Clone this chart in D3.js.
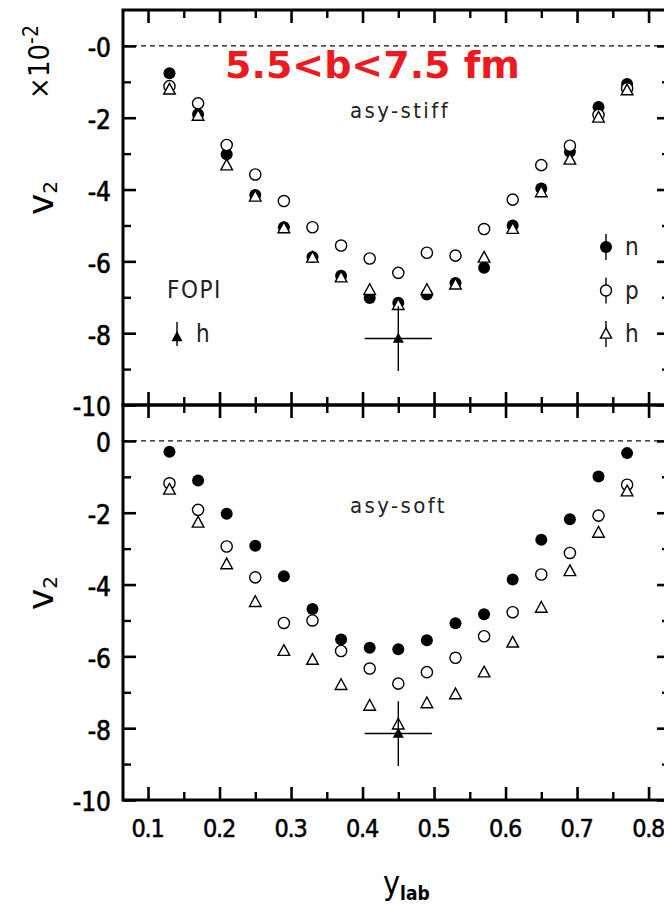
<!DOCTYPE html>
<html>
<head>
<meta charset="utf-8">
<script src="https://cdn.jsdelivr.net/npm/d3@7"></script>
<style>
  html, body { margin: 0; padding: 0; background: #fff; }
  svg { display: block; }
</style>
</head>
<body>
<script>
// Rapidity bin centres (y_lab)
const rapidity = [0.13, 0.17, 0.21, 0.25, 0.29, 0.33, 0.37, 0.41, 0.45, 0.49, 0.53, 0.57, 0.61, 0.65, 0.69, 0.73, 0.77];

// Elliptic flow v2 (x10^-2), asy-stiff symmetry energy
const stiffN = [-0.76, -1.90, -3.02, -4.15, -5.05, -5.88, -6.40, -7.02, -7.15, -6.92, -6.60, -6.18, -5.00, -3.97, -2.95, -1.70, -1.06];
const stiffP = [-1.12, -1.60, -2.76, -3.58, -4.32, -5.05, -5.56, -5.92, -6.32, -5.76, -5.84, -5.10, -4.28, -3.32, -2.78, -1.92, -1.18];
const stiffH = [-1.22, -1.95, -3.33, -4.20, -5.08, -5.90, -6.45, -6.80, -7.22, -6.80, -6.65, -5.90, -5.10, -4.08, -3.17, -2.00, -1.24];

// Elliptic flow v2 (x10^-2), asy-soft symmetry energy
const softN = [-0.30, -1.10, -2.03, -2.92, -3.77, -4.68, -5.53, -5.76, -5.80, -5.55, -5.08, -4.83, -3.86, -2.75, -2.18, -0.99, -0.34];
const softP = [-1.18, -1.92, -2.94, -3.80, -5.07, -5.00, -5.85, -6.34, -6.76, -6.44, -6.04, -5.44, -4.77, -3.72, -3.12, -2.08, -1.22];
const softH = [-1.36, -2.28, -3.44, -4.49, -5.85, -6.10, -6.80, -7.38, -7.90, -7.31, -7.06, -6.45, -5.62, -4.65, -3.63, -2.56, -1.41];

// FOPI hydrogen measurement with its error bars
const fopiX = [0.45];
const fopiY = [-8.15];
const fopiErrX = [0.047];
const fopiErrY = [0.9];

// Axis ticks
const xMajor = [0.1, 0.2, 0.3, 0.4, 0.5, 0.6, 0.7, 0.8];
const xMinor = [0.15, 0.25, 0.35, 0.45, 0.55, 0.65, 0.75];
const yMajor = [-10, -8, -6, -4, -2, 0];
const yMinor = [-9, -7, -5, -3, -1];

const legendLabels = ["n", "p", "h"];
const panelTitles = ["asy-stiff", "asy-soft"];
const centralityText = "5.5<b<7.5 fm";

const W = 664, H = 906;
const svg = d3.select("body").append("svg").attr("width", W).attr("height", H);

const FRAME_L = 123, FRAME_R = 670;
const x = d3.scaleLinear().domain([0.065, 0.83]).range([FRAME_L, FRAME_R]);

const panels = [
  { title: panelTitles[0], top: 10, bottom: 405, n: stiffN, p: stiffP, h: stiffH, zero: "-0", titleY: 118, legend: true },
  { title: panelTitles[1], top: 405, bottom: 800, n: softN, p: softP, h: softH, zero: "0", titleY: 513, legend: false }
];

const condensed = "'DejaVu Sans Condensed', 'DejaVu Sans', sans-serif";
const tri = (s) => `M0,${-s * 1.1}L${s},${s * 0.75}L${-s},${s * 0.75}Z`;

function tickStyle(g, w) {
  g.select(".domain").remove();
  g.selectAll(".tick line").attr("stroke", "#000").attr("stroke-width", w);
}

panels.forEach((P) => {
  const y = d3.scaleLinear().domain([-10, 1]).range([P.bottom, P.top]);
  const g = svg.append("g");

  // zero line
  g.append("line")
    .attr("x1", FRAME_L).attr("x2", FRAME_R)
    .attr("y1", y(0)).attr("y2", y(0))
    .attr("stroke", "#111").attr("stroke-width", 1.1)
    .attr("stroke-dasharray", "5,4");

  // inward ticks on all four sides
  const axes = [
    [() => d3.axisRight(y), `translate(${FRAME_L},0)`, yMajor, yMinor],
    [() => d3.axisLeft(y), `translate(${FRAME_R},0)`, yMajor, yMinor],
    [() => d3.axisBottom(x), `translate(0,${P.top})`, xMajor, xMinor],
    [() => d3.axisTop(x), `translate(0,${P.bottom})`, xMajor, xMinor]
  ];
  axes.forEach(([mk, tr, major, minor]) => {
    g.append("g").attr("transform", tr)
      .call(mk().tickValues(major).tickSize(13).tickFormat(""))
      .call(s => tickStyle(s, 2.6));
    g.append("g").attr("transform", tr)
      .call(mk().tickValues(minor).tickSize(8).tickFormat(""))
      .call(s => tickStyle(s, 2.4));
  });

  // left tick labels
  const lab = g.append("g").attr("transform", `translate(${FRAME_L},0)`)
    .call(d3.axisLeft(y).tickValues(yMajor).tickSize(0).tickPadding(12)
      .tickFormat(d => d === 0 ? P.zero : "-" + Math.abs(d)));
  lab.select(".domain").remove();
  lab.selectAll("text")
    .attr("font-family", condensed).attr("font-size", 26)
    .attr("fill", "#000").attr("stroke", "#000").attr("stroke-width", 0.6)
    .attr("dy", "0.42em");

  // data markers: n (filled), p (open circle), h (open triangle)
  const pts = (vals) => rapidity.map((r, i) => ({ r, v: vals[i] }));
  g.append("g").selectAll("circle").data(pts(P.n)).join("circle")
    .attr("cx", d => x(d.r)).attr("cy", d => y(d.v)).attr("r", 6)
    .attr("fill", "#000");
  g.append("g").selectAll("circle").data(pts(P.p)).join("circle")
    .attr("cx", d => x(d.r)).attr("cy", d => y(d.v)).attr("r", 5.6)
    .attr("fill", "#fff").attr("stroke", "#000").attr("stroke-width", 1.4);
  g.append("g").selectAll("path").data(pts(P.h)).join("path")
    .attr("transform", d => `translate(${x(d.r)},${y(d.v)})`)
    .attr("d", tri(5.8))
    .attr("fill", "#fff").attr("stroke", "#000").attr("stroke-width", 1.4);

  // FOPI point with error bars
  const fopi = fopiX.map((fx, i) => ({ x: fx, y: fopiY[i], ex: fopiErrX[i], ey: fopiErrY[i] }));
  const fg = g.append("g").selectAll("g").data(fopi).join("g");
  fg.append("line")
    .attr("x1", d => x(d.x - d.ex)).attr("x2", d => x(d.x + d.ex))
    .attr("y1", d => y(d.y)).attr("y2", d => y(d.y))
    .attr("stroke", "#000").attr("stroke-width", 1.4);
  fg.append("line")
    .attr("x1", d => x(d.x)).attr("x2", d => x(d.x))
    .attr("y1", d => y(d.y + d.ey)).attr("y2", d => y(d.y - d.ey))
    .attr("stroke", "#000").attr("stroke-width", 1.4);
  fg.append("path")
    .attr("transform", d => `translate(${x(d.x)},${y(d.y)})`)
    .attr("d", tri(5.5)).attr("fill", "#000");

  // panel title
  g.append("text").attr("x", 350).attr("y", P.titleY)
    .attr("font-family", condensed).attr("font-size", 22)
    .attr("letter-spacing", 2.4).attr("fill", "#222")
    .text(P.title);

  // y-axis title v2
  const vt = g.append("text")
    .attr("transform", `translate(53,${P.top + 188}) rotate(-90)`)
    .attr("text-anchor", "middle")
    .attr("font-family", "'DejaVu Sans', sans-serif").attr("font-size", 36).attr("fill", "#000");
  vt.append("tspan").text("v");
  vt.append("tspan").attr("font-size", 20).attr("dy", 4).text("2");

  // frame
  g.append("rect")
    .attr("x", FRAME_L).attr("y", P.top)
    .attr("width", FRAME_R - FRAME_L).attr("height", P.bottom - P.top)
    .attr("fill", "none").attr("stroke", "#000").attr("stroke-width", 3);

  if (P.legend) {
    // legend for the transport results
    const lg = g.append("g").selectAll("g").data(legendLabels).join("g")
      .attr("transform", (d, i) => `translate(606,${247 + i * 43.5})`);
    lg.append("line").attr("y1", -13).attr("y2", 13)
      .attr("stroke", "#000").attr("stroke-width", 1.4);
    lg.filter(d => d === "n").append("circle").attr("r", 6).attr("fill", "#000");
    lg.filter(d => d === "p").append("circle").attr("r", 5.5)
      .attr("fill", "#fff").attr("stroke", "#000").attr("stroke-width", 1.4);
    lg.filter(d => d === "h").append("path").attr("d", tri(5.5))
      .attr("fill", "#fff").attr("stroke", "#000").attr("stroke-width", 1.4);
    lg.append("text").attr("x", 19).attr("y", 8)
      .attr("font-family", condensed).attr("font-size", 24).attr("fill", "#222")
      .text(d => d);

    // FOPI legend
    g.append("text").attr("x", 167).attr("y", 298)
      .attr("font-family", condensed).attr("font-size", 24)
      .attr("letter-spacing", 1.5).attr("fill", "#222").text("FOPI");
    g.append("line").attr("x1", 177).attr("x2", 177).attr("y1", 322).attr("y2", 346)
      .attr("stroke", "#000").attr("stroke-width", 1.4);
    g.append("path").attr("transform", "translate(177,337)").attr("d", tri(5.5)).attr("fill", "#000");
    g.append("text").attr("x", 196).attr("y", 342)
      .attr("font-family", condensed).attr("font-size", 24).attr("fill", "#222").text("h");

    // scale factor
    const sf = g.append("text")
      .attr("transform", "translate(49,62) rotate(-90)")
      .attr("text-anchor", "middle")
      .attr("font-family", condensed).attr("font-size", 29).attr("fill", "#000");
    sf.append("tspan").text("×10");
    sf.append("tspan").attr("font-size", 21).attr("dy", -11).text("-2");

    // centrality selection
    g.append("text").attr("x", 225).attr("y", 78)
      .attr("font-family", "'DejaVu Sans', sans-serif").attr("font-weight", "bold")
      .attr("font-size", 38).attr("fill", "#ec1a1f")
      .text(centralityText);
  } else {
    // x tick labels
    const xl = g.append("g").attr("transform", `translate(0,${P.bottom})`)
      .call(d3.axisBottom(x).tickValues(xMajor).tickSize(0).tickPadding(19).tickFormat(d3.format(".1f")));
    xl.select(".domain").remove();
    xl.selectAll("text").attr("font-family", condensed).attr("font-size", 25)
      .attr("letter-spacing", -1.3).attr("dx", -1)
      .attr("fill", "#000").attr("stroke", "#000").attr("stroke-width", 0.5);

    // x-axis title
    const xt = g.append("text").attr("x", 383).attr("y", 894)
      .attr("font-family", condensed).attr("font-size", 32).attr("fill", "#000");
    xt.append("tspan").text("y");
    xt.append("tspan").attr("font-size", 19).attr("font-weight", "bold").attr("dy", 6).text("lab");
  }
});
</script>
</body>
</html>
